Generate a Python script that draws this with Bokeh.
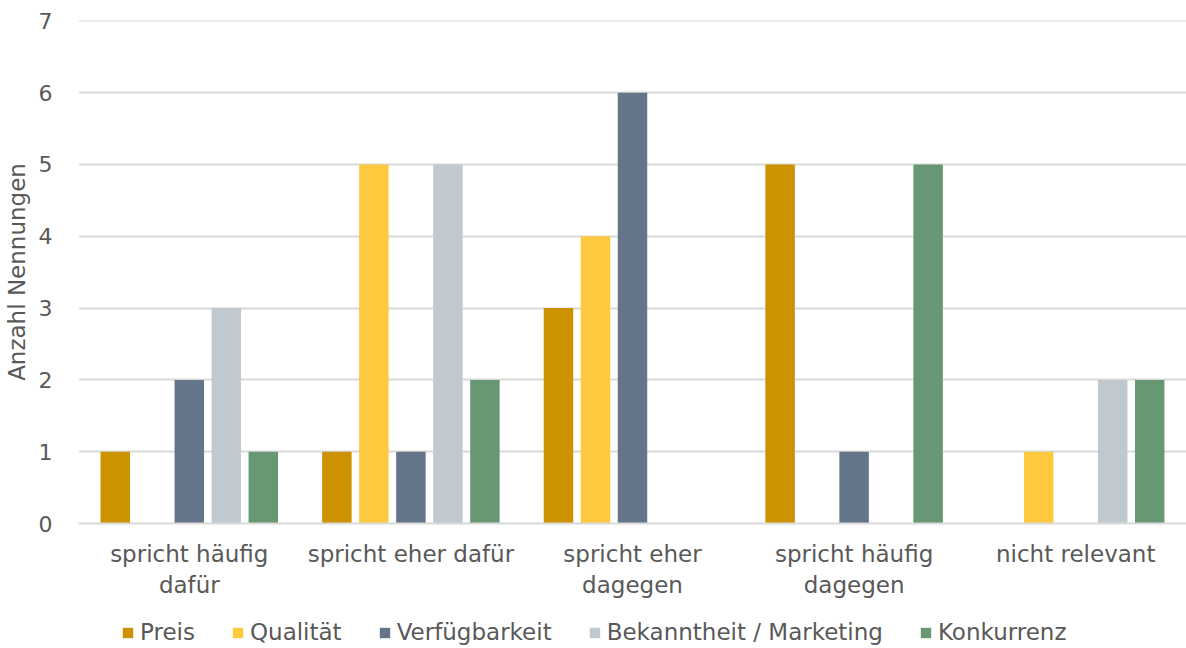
from bokeh.plotting import figure
from bokeh.layouts import column
from bokeh.models import ColumnDataSource, FactorRange, Legend, LegendItem, FixedTicker
from bokeh.transform import dodge
from bokeh.embed import file_html
from bokeh.resources import INLINE

categories = ["spricht häufig\ndafür", "spricht eher dafür", "spricht eher\ndagegen",
              "spricht häufig\ndagegen", "nicht relevant"]
series = ["Preis", "Qualität", "Verfügbarkeit", "Bekanntheit / Marketing", "Konkurrenz"]
preis = [1, 1, 3, 5, 0]
qualitaet = [0, 5, 4, 0, 1]
verfuegbarkeit = [2, 1, 6, 1, 0]
bekanntheit = [3, 5, 0, 0, 2]
konkurrenz = [1, 2, 0, 5, 2]
colors = ["#CC9200", "#FFC93F", "#657589", "#C0C8D0", "#679873"]
y_ticks = [0, 1, 2, 3, 4, 5, 6, 7]

FONT = "DejaVu Sans"
TEXT = "#595959"
SIZE = "22px"
LABEL_SIZE = "23px"

source = ColumnDataSource(dict(cat=categories, Preis=preis, Qualitaet=qualitaet,
                               Verfuegbarkeit=verfuegbarkeit, Bekanntheit=bekanntheit,
                               Konkurrenz=konkurrenz))
cols = ["Preis", "Qualitaet", "Verfuegbarkeit", "Bekanntheit", "Konkurrenz"]

# main bar chart
p = figure(width=1186, height=600,
           x_range=FactorRange(*categories, range_padding=0),
           y_range=(0, 7.005), output_backend="svg", toolbar_location=None,
           min_border_left=78, min_border_right=0, min_border_top=20, min_border_bottom=76)
p.outline_line_color = None
p.background_fill_color = "white"

pitch = 0.167
for i, (col, c) in enumerate(zip(cols, colors)):
    p.vbar(x=dodge("cat", (i - 2) * pitch, range=p.x_range), top=col, width=0.133,
           source=source, color=c, line_color=None)

p.xgrid.grid_line_color = None
p.ygrid.grid_line_color = "#D9D9D9"
p.ygrid.grid_line_width = 2
p.yaxis.ticker = FixedTicker(ticks=y_ticks)
p.yaxis.axis_line_color = None
p.yaxis.major_tick_line_color = None
p.yaxis.minor_tick_line_color = None
p.yaxis.major_label_text_font = FONT
p.yaxis.major_label_text_font_size = SIZE
p.yaxis.major_label_text_color = TEXT
p.yaxis.major_label_standoff = 20
p.yaxis.axis_label = "Anzahl Nennungen"
p.yaxis.axis_label_text_font = FONT
p.yaxis.axis_label_text_font_size = LABEL_SIZE
p.yaxis.axis_label_text_font_style = "normal"
p.yaxis.axis_label_text_color = TEXT
p.yaxis.axis_label_standoff = 6

p.xaxis.axis_line_color = "#D9D9D9"
p.xaxis.axis_line_width = 2
p.xaxis.major_tick_line_color = None
p.xaxis.minor_tick_line_color = None
p.xaxis.major_label_text_font = FONT
p.xaxis.major_label_text_font_size = LABEL_SIZE
p.xaxis.major_label_text_color = TEXT
p.xaxis.major_label_standoff = 11
p.xaxis.major_label_orientation = "horizontal"

# legend strip underneath: same series, glyphs kept outside the visible range
leg = figure(width=1186, height=48, x_range=FactorRange(*categories), y_range=(100, 101),
             output_backend="svg", toolbar_location=None, x_axis_type=None, y_axis_type=None,
             min_border_left=0, min_border_right=0, min_border_top=0, min_border_bottom=0)
leg.outline_line_color = None
leg.xgrid.grid_line_color = None
leg.ygrid.grid_line_color = None
leg_renderers = []
for col, c in zip(cols, colors):
    leg_renderers.append(leg.vbar(x="cat", top=col, width=0.1, source=source,
                                  color=c, line_color=None))

items = [LegendItem(label=s, renderers=[r]) for s, r in zip(series, leg_renderers)]
legend = Legend(items=items, orientation="horizontal", location=(43, 3),
                glyph_width=13, glyph_height=13, label_text_font=FONT,
                label_text_font_size=LABEL_SIZE, label_text_color=TEXT,
                spacing=36, label_standoff=6, border_line_color=None,
                background_fill_alpha=0, padding=0, margin=0)
leg.add_layout(legend, "center")

layout = column(p, leg, spacing=0)
open("out.html", "w").write(file_html(layout, INLINE))
